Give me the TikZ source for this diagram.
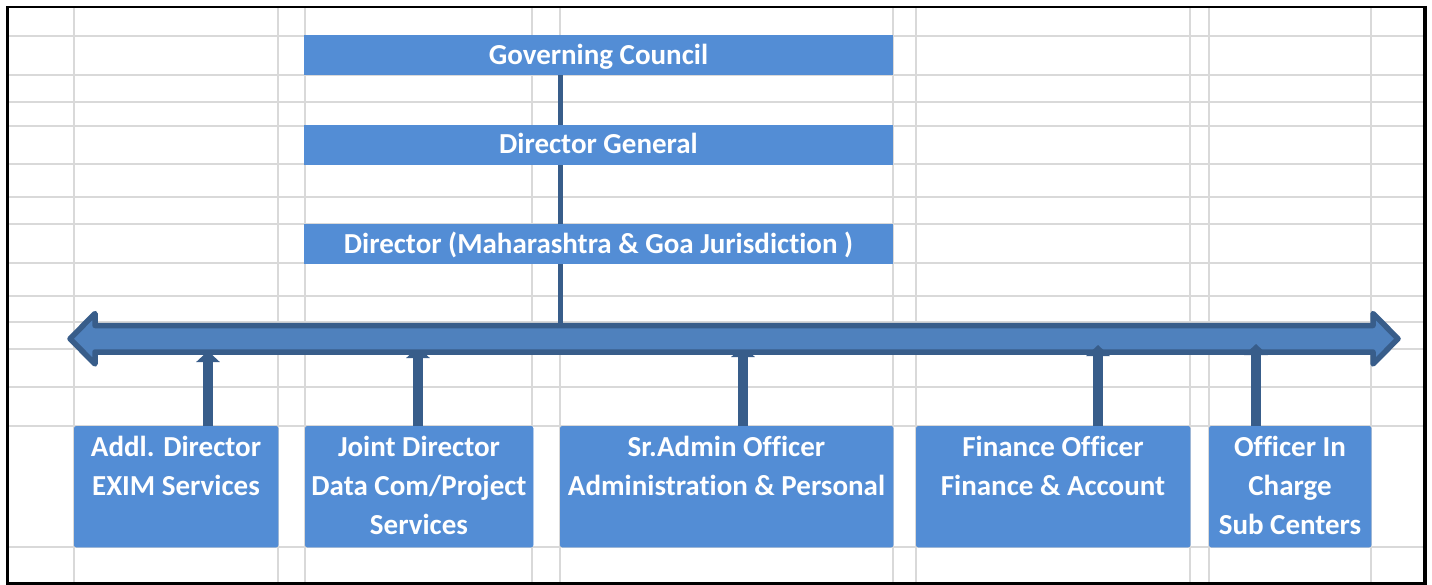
\documentclass[tikz,border=0pt]{standalone}
\usepackage{fontspec}
\setmainfont{Carlito}[Ligatures={NoCommon}]
\usetikzlibrary{arrows.meta}
\definecolor{boxblue}{HTML}{538DD5}
\definecolor{busfill}{HTML}{4F81BD}
\definecolor{darkblue}{HTML}{385D8A}
\definecolor{gridgray}{HTML}{D9D9D9}
\begin{document}
\begin{tikzpicture}[x=1pt,y=-1pt,
  gridline/.style={draw=gridgray,line width=1.6pt},
  topbox/.style={fill=boxblue,inner sep=0pt,anchor=north west,minimum width=589pt,minimum height=40pt},
  botbox/.style={fill=boxblue,inner sep=0pt,anchor=north west,minimum height=121pt,rounded corners=2.5pt},
  lbl/.style={text=white,font=\bfseries\fontsize{29}{39}\selectfont,align=center,anchor=base,inner sep=0pt},
  conn/.style={draw=darkblue,line width=5.5pt},
  uparrow/.style={draw=darkblue,line width=10pt,-{Triangle[width=23pt,length=11pt]}},
  busstyle/.style={fill=busfill,draw=darkblue,line width=5.5pt,line join=round}]
\useasboundingbox (0,0) rectangle (1432,585);
\fill[white] (0,0) rectangle (1432,585);
% grid
\foreach \x in {74,278,305,532,560,893,916,1190,1209,1371}
  \draw[gridline] (\x,7) -- (\x,583);
\foreach \y in {36,75,102,126,164,197,224,263,296,322,349,387,426,547}
  \draw[gridline] (8,\y) -- (1424,\y);
% frame
\draw[black,line width=2.2pt] (7.5,7) rectangle (1424,583.5);
\draw[black,line width=4pt] (1425,6) -- (1425,584.5);
% boxes
\node[topbox] (gc) at (304,35) {};
\node[topbox] (dg) at (304,125) {};
\node[topbox] (dir) at (304,224) {};
\node[botbox,minimum width=204pt] (addl) at (74,426) {};
\node[botbox,minimum width=228pt] (joint) at (305,426) {};
\node[botbox,minimum width=333pt] (sradmin) at (560,426) {};
\node[botbox,minimum width=274pt] (fin) at (916,426) {};
\node[botbox,minimum width=162pt] (oic) at (1209,426) {};
% bus (shaft node)
\node[inner sep=0pt,minimum width=1278pt,minimum height=32pt] (bus) at (734,338.75) {};
% arrow tip positions
\coordinate (t1) at (208,351);
\coordinate (t2) at (418,347);
\coordinate (t3) at (743,346);
\coordinate (t4) at (1098,345);
\coordinate (t5) at (1256,344);
\coordinate (c0) at (560.5,0);
% connectors behind the bus
\draw[conn] (gc.south -| c0) -- (dg.north -| c0);
\draw[conn] (dg.south -| c0) -- (dir.north -| c0);
\draw[conn] (dir.south -| c0) -- (bus.north -| c0);
\draw[uparrow] (addl.north -| t1) -- (t1);
\draw[uparrow] (joint.north -| t2) -- (t2);
\draw[uparrow] (sradmin.north -| t3) -- (t3);
% bus
\draw[busstyle] (70,338.75) -- (95,313.5) -- (95,325.5) -- (1373,325.5) -- (1373,313.5)
  -- (1398,338.75) -- (1373,364) -- (1373,352) -- (95,352) -- (95,364) -- cycle;
\draw[uparrow] (fin.north -| t4) -- (t4);
\draw[uparrow] (oic.north -| t5) -- (t5);
% redraw boxes on top
\fill[boxblue] (gc.north west) rectangle (gc.south east);
\fill[boxblue] (dg.north west) rectangle (dg.south east);
\fill[boxblue] (dir.north west) rectangle (dir.south east);
\fill[boxblue,rounded corners=2.5pt] (addl.north west) rectangle (addl.south east);
\fill[boxblue,rounded corners=2.5pt] (joint.north west) rectangle (joint.south east);
\fill[boxblue,rounded corners=2.5pt] (sradmin.north west) rectangle (sradmin.south east);
\fill[boxblue,rounded corners=2.5pt] (fin.north west) rectangle (fin.south east);
\fill[boxblue,rounded corners=2.5pt] (oic.north west) rectangle (oic.south east);
% labels (base anchor = baseline of the last line)
\node[lbl] (gct) at (598.5,65) {Governing Council};
\node[lbl] (dgt) at (598.5,154) {Director General};
\node[lbl] (dirt) at (598.5,254) {Director (Maharashtra \& Goa Jurisdiction )};
\node[lbl] (addlt) at (176,495) {Addl. Director\\EXIM Services};
\node[lbl] (jointt) at (419,534) {Joint Director\\Data Com/Project\\Services};
\node[lbl] (sradmint) at (726.5,495) {Sr.Admin Officer\\Administration \& Personal};
\node[lbl] (fint) at (1053,495) {Finance Officer\\Finance \& Account};
\node[lbl] (oict) at (1290,534) {Officer In\\Charge\\Sub Centers};
\end{tikzpicture}
\end{document}
